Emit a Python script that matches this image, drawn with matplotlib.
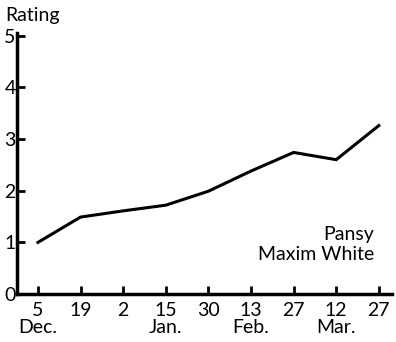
import matplotlib.pyplot as plt

days = ["5", "19", "2", "15", "30", "13", "27", "12", "27"]
months = ["Dec.", "", "", "Jan.", "", "Feb.", "", "Mar.", ""]
rating = [1.0, 1.49, 1.61, 1.72, 1.99, 2.38, 2.74, 2.6, 3.26]

plt.rcParams['font.family'] = ['Lato', 'DejaVu Sans']

fig = plt.figure(figsize=(3.96, 3.42), dpi=100)
ax = fig.add_axes([0.043, 0.14, 0.947, 0.7635])

x = list(range(len(days)))
ax.plot(x, rating, color='black', linewidth=2.2, solid_joinstyle='miter')

ax.set_xlim(-0.49, 8.31)
ax.set_ylim(0, 5.05)
ax.set_yticks([0, 1, 2, 3, 4, 5])
ax.set_xticks(x)
ax.set_xticklabels([d + "\n" + m for d, m in zip(days, months)], linespacing=1.0)

for s in ['top', 'right']:
    ax.spines[s].set_visible(False)
for s in ['left', 'bottom']:
    ax.spines[s].set_linewidth(2.5)

ax.tick_params(axis='both', direction='in', length=6, width=2, labelsize=14)
ax.tick_params(axis='y', pad=1)
ax.tick_params(axis='x', pad=6)

fig.text(0.013, 0.955, "Rating", fontsize=14, ha='left', va='center')
ax.text(0.952, 0.19, "Pansy\nMaxim White", transform=ax.transAxes,
        ha='right', va='center', fontsize=14, linespacing=1.15)

fig.savefig("out.png", dpi=100)
